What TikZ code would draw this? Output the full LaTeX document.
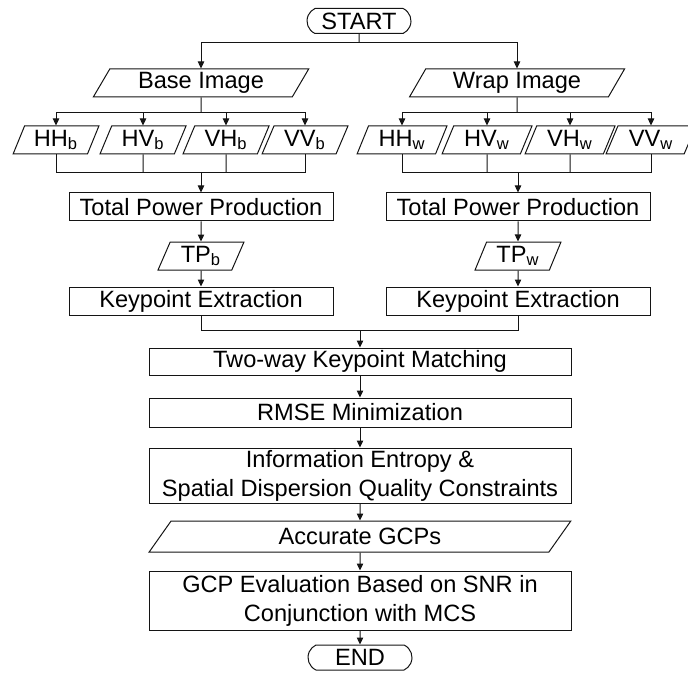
\documentclass[tikz,border=0pt]{standalone}
\usepackage{fontspec}
\setmainfont{Liberation Sans}
\usetikzlibrary{positioning,arrows.meta,calc,shapes.geometric,shapes.misc}
\definecolor{flowink}{HTML}{141414}

\begin{document}
\begin{tikzpicture}[
  x=0.5pt, y=-0.5pt,
  font=\fontsize{11.8}{14.5}\selectfont,
  line width=0.5pt,
  box/.style={draw=flowink, rectangle, align=center, inner sep=1pt, minimum width=211pt, minimum height=14pt},
  halfbox/.style={box, minimum width=132pt},
  term/.style={draw=flowink, rounded rectangle, rounded rectangle arc length=130, minimum width=53pt, minimum height=12.5pt, inner sep=0.5pt},
  io/.style={draw=flowink, trapezium, trapezium stretches=true, trapezium left angle=65, trapezium right angle=115, inner sep=1pt, minimum height=14pt},
  pol/.style={io, trapezium left angle=70, trapezium right angle=110, minimum width=43pt},
  arr/.style={-{Triangle[length=3.5pt,width=3.2pt]}, draw=flowink},
  ln/.style={draw=flowink}
]
\useasboundingbox (0,0) rectangle (688,673);

\node[term] (start) at (359,21) {START};
\node[io, minimum width=108pt] (base) at (201,83) {Base Image};
\node[io, minimum width=108pt] (wrap) at (517,83) {Wrap Image};

\node[pol] (hhb) at (56,140) {HH\textsubscript{b}};
\node[pol] (hvb) at (143,140) {HV\textsubscript{b}};
\node[pol] (vhb) at (226,140) {VH\textsubscript{b}};
\node[pol] (vvb) at (305,140) {VV\textsubscript{b}};
\node[pol, minimum width=45pt] (hhw) at (402,140) {HH\textsubscript{w}};
\node[pol, minimum width=45pt] (hvw) at (487,140) {HV\textsubscript{w}};
\node[pol, minimum width=45pt] (vhw) at (570,140) {VH\textsubscript{w}};
\node[pol, minimum width=45pt] (vvw) at (651,140) {VV\textsubscript{w}};

\node[halfbox] (tppb) at (201,207) {Total Power Production};
\node[pol, below=10pt of tppb] (tpb) {TP\textsubscript{b}};
\node[halfbox, below=8pt of tpb] (keb) {Keypoint Extraction};
\node[halfbox] (tppw) at (518,207) {Total Power Production};
\node[pol, below=10pt of tppw] (tpw) {TP\textsubscript{w}};
\node[halfbox, below=8pt of tpw] (kew) {Keypoint Extraction};

\node[box, minimum height=13.5pt] (match) at (360,361.5) {Two-way Keypoint Matching};
\node[box, minimum height=14.5pt, below=11pt of match] (rmse) {RMSE Minimization};
\node[box, minimum height=27.5pt, below=10pt of rmse] (entropy) {Information Entropy \&\\Spatial Dispersion Quality Constraints};
\node[io, minimum width=212pt, minimum height=15.5pt, below=8.5pt of entropy] (gcps) {Accurate GCPs};
\node[box, minimum height=29.5pt, below=9pt of gcps] (snr) {GCP Evaluation Based on SNR in\\Conjunction with MCS};
\node[term, below=7pt of snr] (end) {END};

% start splits to both images
\coordinate (ssplit) at ($(start.south)+(0,9)$);
\draw[ln] (start) -- (ssplit);
\draw[arr] (ssplit) -| (base);
\draw[arr] (ssplit) -| (wrap);

% polarisation channels
\coordinate (bsplit) at ($(base.south)+(0,15)$);
\coordinate (wsplit) at ($(wrap.south)+(0,15)$);
\draw[ln] (base) -- (bsplit);
\draw[ln] (wrap) -- (wsplit);
\foreach \p in {hhb,hvb,vhb,vvb} \draw[arr] (bsplit) -| (\p);
\foreach \p in {hhw,hvw,vhw,vvw} \draw[arr] (wsplit) -| (\p);

\coordinate (bjoin) at ($(tppb.north)+(0,-20)$);
\coordinate (wjoin) at ($(tppw.north)+(0,-20)$);
\draw[ln] (hhb) |- (bjoin) -| (vvb);
\draw[ln] (hvb) -- (hvb.south |- bjoin);
\draw[ln] (vhb) -- (vhb.south |- bjoin);
\draw[ln] (hhw) |- (wjoin) -| (vvw);
\draw[ln] (hvw) -- (hvw.south |- wjoin);
\draw[ln] (vhw) -- (vhw.south |- wjoin);
\draw[arr] (bjoin) -- (tppb);
\draw[arr] (wjoin) -- (tppw);

\draw[arr] (tppb) -- (tpb);
\draw[arr] (tpb) -- (keb);
\draw[arr] (tppw) -- (tpw);
\draw[arr] (tpw) -- (kew);

% merge of both branches
\coordinate (mjoin) at ($(match.north)+(0,-17)$);
\draw[ln] (keb) |- (mjoin) -| (kew);
\draw[arr] (mjoin) -- (match);

\draw[arr] (match) -- (rmse);
\draw[arr] (rmse) -- (entropy);
\draw[arr] (entropy) -- (gcps);
\draw[arr] (gcps) -- (snr);
\draw[arr] (snr) -- (end);
\end{tikzpicture}
\end{document}
